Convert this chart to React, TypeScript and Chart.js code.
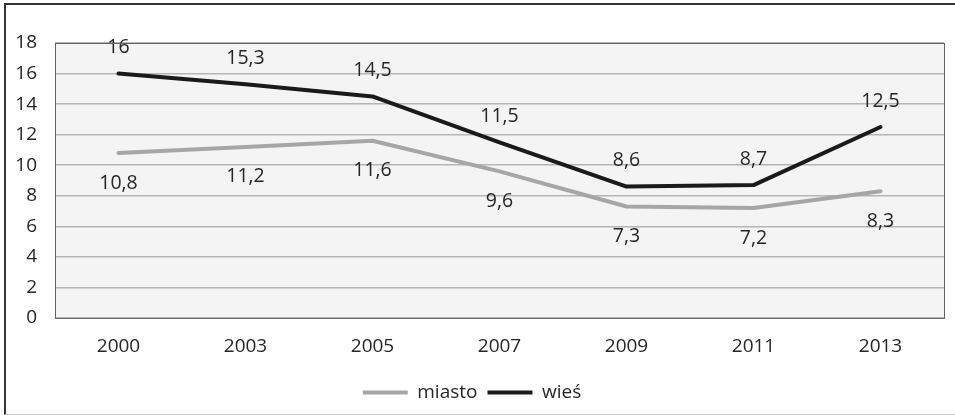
import React, { useEffect, useRef } from "react";
import { Chart, registerables } from "chart.js";

Chart.register(...registerables);

const categories = ["2000", "2003", "2005", "2007", "2009", "2011", "2013"];
const miasto = [10.8, 11.2, 11.6, 9.6, 7.3, 7.2, 8.3];
const wies = [16, 15.3, 14.5, 11.5, 8.6, 8.7, 12.5];
const seriesNames = ["miasto", "wieś"];

const FONT = "'Open Sans', sans-serif";

const bgPlugin = {
  id: "plotBg",
  beforeDraw(chart: any) {
    const { ctx, chartArea } = chart;
    if (!chartArea) return;
    ctx.save();
    ctx.fillStyle = "#f3f4f3";
    ctx.fillRect(chartArea.left, chartArea.top, chartArea.right - chartArea.left, chartArea.bottom - chartArea.top);
    ctx.restore();
  },
  afterDraw(chart: any) {
    const { ctx, chartArea } = chart;
    ctx.save();
    ctx.strokeStyle = "#666";
    ctx.lineWidth = 1;
    ctx.strokeRect(Math.round(chartArea.left) + 0.5, Math.round(chartArea.top) + 0.5, Math.round(chartArea.right - chartArea.left), Math.round(chartArea.bottom - chartArea.top));
    ctx.restore();
  },
};

const labelPlugin = {
  id: "valueLabels",
  afterDatasetsDraw(chart: any) {
    const { ctx } = chart;
    ctx.save();
    ctx.font = `19.5px ${FONT}`;
    ctx.fillStyle = "#262626";
    ctx.textAlign = "center";
    ctx.textBaseline = "middle";
    chart.data.datasets.forEach((ds: any, i: number) => {
      const meta = chart.getDatasetMeta(i);
      const off = i === 0 ? 30 : -26;
      meta.data.forEach((pt: any, j: number) => {
        const v = ds.data[j] as number;
        ctx.fillText(String(v).replace(".", ","), pt.x, pt.y + off);
      });
    });
    ctx.restore();
  },
};

export default function App() {
  const ref = useRef<HTMLCanvasElement | null>(null);
  useEffect(() => {
    document.body.style.margin = "0";
    document.body.style.overflow = "hidden";
    const chart = new Chart(ref.current as HTMLCanvasElement, {
      type: "line",
      data: {
        labels: categories,
        datasets: [
          {
            label: seriesNames[0],
            data: miasto,
            borderColor: "#a6a6a6",
            backgroundColor: "#a6a6a6",
            borderWidth: 4,
            pointRadius: 0,
            borderJoinStyle: "round",
            borderCapStyle: "round",
            tension: 0,
          },
          {
            label: seriesNames[1],
            data: wies,
            borderColor: "#1a1a1a",
            backgroundColor: "#1a1a1a",
            borderWidth: 4,
            pointRadius: 0,
            borderJoinStyle: "round",
            borderCapStyle: "round",
            tension: 0,
          },
        ],
      },
      options: {
        animation: false,
        responsive: false,
        devicePixelRatio: 1,
        layout: { padding: { left: 0, top: 43, right: 11, bottom: 3 } },
        plugins: {
          tooltip: { enabled: false },
          legend: {
            position: "bottom",
            labels: {
              font: { family: FONT, size: 19 },
              color: "#262626",
              boxWidth: 45,
              boxHeight: 4,
              padding: 10,
              generateLabels(chart: any) {
                return chart.data.datasets.map((ds: any, i: number) => ({
                  text: ds.label,
                  fillStyle: ds.borderColor,
                  strokeStyle: ds.borderColor,
                  lineWidth: 0,
                  hidden: false,
                  datasetIndex: i,
                  fontColor: "#262626",
                }));
              },
            },
          },
        },
        scales: {
          x: {
            offset: true,
            grid: { display: false, drawTicks: false },
            border: { display: false },
            ticks: { font: { family: FONT, size: 19 }, color: "#262626", padding: 17, maxRotation: 0 },
            afterFit(scale: any) {
              scale.height = 55;
            },
          },
          y: {
            min: 0,
            max: 18,
            grid: { color: "#b5b5b5", lineWidth: 1.5, drawTicks: false },
            border: { display: false },
            ticks: { stepSize: 2, font: { family: FONT, size: 19 }, color: "#262626", padding: 18 },
            afterFit(scale: any) {
              scale.width = 55;
            },
          },
        },
      },
      plugins: [bgPlugin, labelPlugin],
    } as any);
    return () => chart.destroy();
  }, []);
  return (
    <div style={{ position: "relative", width: 955, height: 415, background: "#fff", overflow: "hidden" }}>
      <canvas ref={ref} width={955} height={415} style={{ position: "absolute", left: 0, top: 0 }} />
      <div
        style={{
          position: "absolute",
          left: 4,
          top: 3,
          width: 980,
          height: 409,
          borderLeft: "2px solid #333",
          borderTop: "2px solid #333",
          borderBottom: "1px solid #ccc",
          pointerEvents: "none",
        }}
      />
    </div>
  );
}
